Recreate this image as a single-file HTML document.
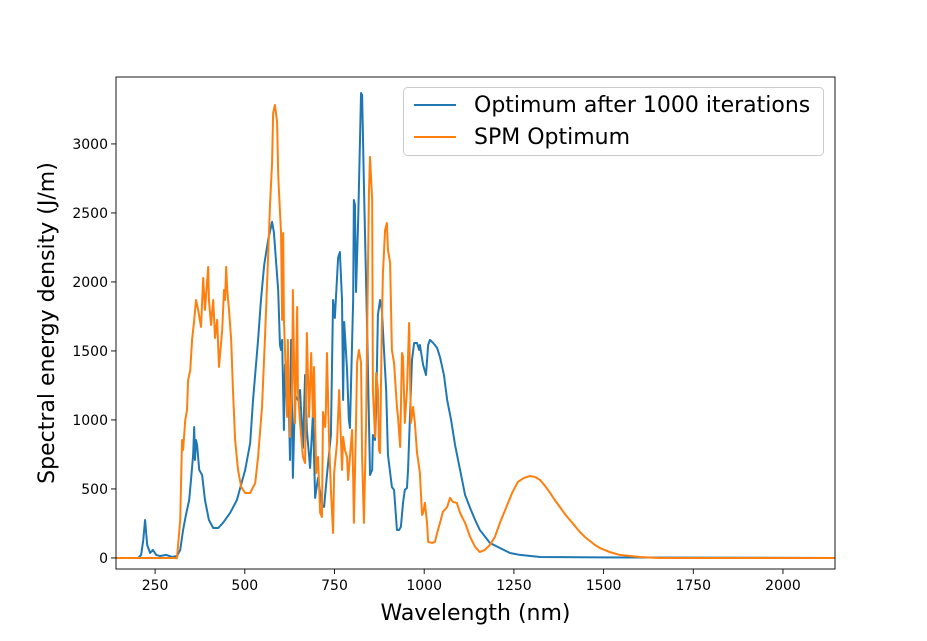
<!DOCTYPE html>
<html><head><meta charset="utf-8"><style>
body{margin:0;background:#fff;}
svg{display:block;font-family:"DejaVu Sans","Liberation Sans",sans-serif;}
</style></head><body>
<svg id="chart" width="927" height="641" viewBox="0 0 927 641" xmlns="http://www.w3.org/2000/svg">
<defs><clipPath id="clip"><rect x="116" y="77" width="719" height="492"/></clipPath></defs>
<rect x="0" y="0" width="927" height="641" fill="#fff"/>
<g id="plot" clip-path="url(#clip)"></g>
<rect x="116" y="77" width="719" height="492" fill="none" stroke="#000" stroke-width="0.9"/>
<g id="xticks"></g>
<g id="yticks"></g>
<text x="475.5" y="620" font-size="22" text-anchor="middle">Wavelength (nm)</text>
<text transform="translate(54,323) rotate(-90)" font-size="22" text-anchor="middle">Spectral energy density (J/m)</text>
<g>
<rect x="403.5" y="87.5" width="420" height="68" rx="4" fill="#fff" fill-opacity="0.8" stroke="#ccc"/>
<line x1="414" y1="105" x2="456" y2="105" stroke="#1f77b4" stroke-width="2"/>
<text x="474" y="112" font-size="22">Optimum after 1000 iterations</text>
<line x1="414" y1="137" x2="456" y2="137" stroke="#ff7f0e" stroke-width="2"/>
<text x="474" y="144" font-size="22">SPM Optimum</text>
</g>
</svg>
<script>
const xTicks=[250,500,750,1000,1250,1500,1750,2000];
const yTicks=[0,500,1000,1500,2000,2500,3000];
const optWl=[141,203,211,217,222,228,236,244,253,264,281,297,311,320,328,336,345,350,356,359,361,364,367,373,381,389,400,412,426,439,459,478,501,515,523,537,545,554,565,576,581,593,598,601,604,609,612,618,620,626,629,634,640,648,654,662,668,673,682,690,696,704,715,721,729,740,746,751,760,765,771,774,777,785,790,793,802,804,807,810,816,824,827,832,841,849,855,857,863,866,871,877,882,885,894,899,910,916,924,930,935,941,946,952,955,960,966,972,980,986,988,997,1005,1011,1016,1025,1036,1044,1055,1064,1075,1086,1100,1114,1128,1142,1155,1183,1211,1239,1267,1323,1490,2145];
const optVal=[0,0,22,130,275,94,36,58,22,14,22,7,14,58,203,312,420,565,746,949,710,855,819,638,601,420,275,217,217,254,326,420,638,833,1145,1580,1869,2123,2304,2435,2362,1942,1543,1507,1580,927,1399,1145,1435,710,1580,580,1181,1145,1217,797,1326,927,652,1051,435,580,384,370,601,891,1869,1739,2174,2217,1869,1145,1710,1362,1000,942,1869,2594,2558,1927,2449,3369,3355,2703,1652,601,638,891,855,1072,1761,1869,1797,1652,1217,746,514,493,203,203,225,399,493,507,638,1000,1435,1558,1558,1507,1543,1399,1326,1543,1580,1558,1522,1456,1326,1145,1000,819,638,456,362,275,203,109,72,36,22,7,4,0];
const spmWl=[141,311,320,325,328,334,339,342,348,353,359,364,370,378,384,389,398,400,406,412,417,423,428,437,442,445,448,451,456,462,467,473,481,490,501,515,529,537,548,556,565,570,576,579,584,590,593,595,601,604,607,609,615,618,620,626,632,634,640,646,648,654,662,668,673,679,685,690,693,699,704,710,715,718,724,726,729,735,740,746,749,757,763,771,774,779,785,788,793,799,802,804,810,813,818,824,827,832,838,843,846,849,855,857,863,866,871,874,877,882,885,891,896,899,905,910,916,924,927,933,938,941,946,952,958,963,969,974,980,983,988,994,997,1002,1008,1011,1022,1030,1036,1044,1052,1064,1072,1080,1091,1100,1114,1128,1142,1155,1169,1183,1197,1211,1228,1245,1261,1278,1295,1309,1323,1337,1351,1364,1378,1392,1406,1420,1434,1448,1462,1476,1490,1517,1545,1601,1657,2145];
const spmVal=[0,0,275,855,783,1000,1072,1290,1362,1580,1725,1869,1797,1674,2029,1797,2109,1869,1688,1869,1594,1725,1384,1652,1942,1869,2109,1942,1797,1580,1217,855,638,514,471,471,543,732,1094,1580,2181,2543,2862,3224,3282,3159,2790,2667,2355,1725,2355,1725,1290,1022,1580,877,1290,1942,978,1819,1217,978,732,688,1630,1022,1485,1022,1384,616,732,326,297,1058,949,1072,1485,833,493,181,616,833,1217,638,877,783,732,565,732,927,587,254,978,1413,1507,1413,732,254,978,2036,2645,2906,2594,1217,877,1340,1217,783,761,1703,2065,2377,2427,2232,2138,1507,1413,1094,1022,804,1485,1456,978,1217,1703,978,1094,978,761,710,616,312,326,399,254,116,109,116,181,254,333,370,435,406,399,326,254,152,80,43,58,94,152,254,362,471,551,580,594,587,565,522,471,420,370,319,275,232,188,152,123,94,72,43,22,7,0,0];

const NS='http://www.w3.org/2000/svg';
const X0=141,X1=2145,Y0=-80,Y1=3485,L=116,R=835,T=77,B=569;
function xs(v){return L+(v-X0)/(X1-X0)*(R-L);}
function ys(v){return B-(v-Y0)/(Y1-Y0)*(B-T);}
function mk(tag,attrs,parent){const e=document.createElementNS(NS,tag);for(const k in attrs)e.setAttribute(k,attrs[k]);parent.appendChild(e);return e;}
const plot=document.getElementById('plot');
function drawLine(wl,val,color,name){
  let d='';
  for(let i=0;i<wl.length;i++){d+=(i?'L':'M')+xs(wl[i]).toFixed(2)+','+ys(val[i]).toFixed(2);}
  const p=mk('path',{d:d,fill:'none',stroke:color,'stroke-width':2,'stroke-linejoin':'round'},plot);
  
  
}
drawLine(optWl,optVal,'#1f77b4','optimum-series-line');
drawLine(spmWl,spmVal,'#ff7f0e','spm-series-line');
const xg=document.getElementById('xticks');
xTicks.forEach(t=>{
  const x=xs(t);
  const l=mk('line',{x1:x,y1:B,x2:x,y2:B+5,stroke:'#000','stroke-width':0.9},xg);
  
  
  const tx=mk('text',{x:x,y:B+21,'font-size':14,'text-anchor':'middle'},xg);
  tx.textContent=t;
  
  
});
const yg=document.getElementById('yticks');
yTicks.forEach(t=>{
  const y=ys(t);
  const l=mk('line',{x1:L-5,y1:y,x2:L,y2:y,stroke:'#000','stroke-width':0.9},yg);
  
  
  const tx=mk('text',{x:L-8,y:y+5,'font-size':14,'text-anchor':'end'},yg);
  tx.textContent=t;
  
  
});
</script>
</body></html>
